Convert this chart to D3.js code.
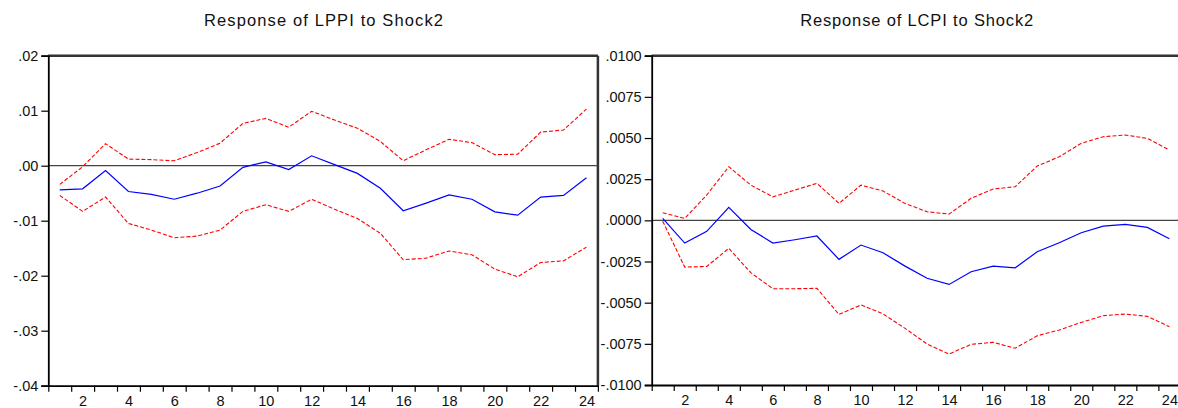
<!DOCTYPE html>
<html>
<head>
<meta charset="utf-8">
<script src="https://cdn.jsdelivr.net/npm/d3@7"></script>
<style>
  body { margin: 0; background: #fff; overflow: hidden; }
  svg { display: block; font-family: Arial, "Liberation Sans", sans-serif; }
</style>
</head>
<body>
<div id="chart-area"></div>
<script>
// Data -------------------------------------------------
const periods = [1, 2, 3, 4, 5, 6, 7, 8, 9, 10, 11, 12, 13, 14, 15, 16, 17, 18, 19, 20, 21, 22, 23, 24]
const evenLabels = [2, 4, 6, 8, 10, 12, 14, 16, 18, 20, 22, 24]

// Response of LPPI to Shock2
const lppiResp = [-0.0044, -0.0042, -0.0009, -0.0047, -0.0052, -0.0061, -0.0050, -0.0037, -0.0003, 0.0007,
  -0.0007, 0.0018, 0.0002, -0.0014, -0.0041, -0.0082, -0.0068, -0.0053, -0.0061, -0.0084,
  -0.0090, -0.0057, -0.0054, -0.0022]
const lppiUpper = [-0.0034, -0.0002, 0.0040, 0.0012, 0.0011, 0.0009, 0.0024, 0.0041, 0.0077, 0.0086,
  0.0070, 0.0099, 0.0083, 0.0068, 0.0044, 0.0009, 0.0029, 0.0048, 0.0042, 0.0020,
  0.0021, 0.0061, 0.0065, 0.0103]
const lppiLower = [-0.0054, -0.0083, -0.0057, -0.0105, -0.0117, -0.0131, -0.0128, -0.0117, -0.0083, -0.0071,
  -0.0083, -0.0061, -0.0079, -0.0096, -0.0123, -0.0171, -0.0168, -0.0155, -0.0162, -0.0188,
  -0.0202, -0.0176, -0.0173, -0.0148]
const lppiTicks = [-0.04, -0.03, -0.02, -0.01, 0.00, 0.01, 0.02]

// Response of LCPI to Shock2
const lcpiResp = [0.00012, -0.00138, -0.00067, 0.00079, -0.00055, -0.00138, -0.00118, -0.00095, -0.00237, -0.00150,
  -0.00197, -0.00278, -0.00352, -0.00389, -0.00312, -0.00278, -0.00288, -0.00191, -0.00136, -0.00075,
  -0.00035, -0.00024, -0.00043, -0.00112]
const lcpiUpper = [0.00046, 0.00012, 0.00154, 0.00326, 0.00214, 0.00143, 0.00184, 0.00225, 0.00103, 0.00214,
  0.00178, 0.00103, 0.00052, 0.00038, 0.00134, 0.00190, 0.00204, 0.00330, 0.00386, 0.00468,
  0.00508, 0.00518, 0.00498, 0.00427]
const lcpiLower = [-0.00005, -0.00284, -0.00280, -0.00170, -0.00318, -0.00415, -0.00415, -0.00413, -0.00571, -0.00514,
  -0.00568, -0.00656, -0.00751, -0.00812, -0.00753, -0.00741, -0.00777, -0.00701, -0.00666, -0.00620,
  -0.00579, -0.00569, -0.00583, -0.00646]
const lcpiTicks = [-0.0100, -0.0075, -0.0050, -0.0025, 0.0000, 0.0025, 0.0050, 0.0075, 0.0100]

// Canvas setup -----------------------------------------
const WIDTH = 1178
const HEIGHT = 408

const svg = d3.select("#chart-area").append("svg")
  .attr("width", WIDTH)
  .attr("height", HEIGHT)

const panels = [
  {title: "Response of LPPI to Shock2", titleX: 323.5, titleLen: 239,
   left: 48.3, right: 597.9, top: 55.7, bottom: 385.7,
   domain: [-0.04, 0.02], ticks: lppiTicks, fmt: ".2f",
   resp: lppiResp, upper: lppiUpper, lower: lppiLower},
  {title: "Response of LCPI to Shock2", titleX: 916.7, titleLen: 233,
   left: 651.7, right: 1180.4, top: 55.7, bottom: 385.0,
   domain: [-0.01, 0.01], ticks: lcpiTicks, fmt: ".4f",
   resp: lcpiResp, upper: lcpiUpper, lower: lcpiLower}
]

panels.forEach(drawPanel)

function tickText(fmt){
  // EViews style: ".02", "-.0025" (plain hyphen, no leading zero)
  return d => d3.format(fmt)(d).replace("\u2212", "-").replace("0.", ".")
}

function drawPanel(p){
  const g = svg.append("g")

  const xScale = d3.scaleLinear()
    .domain([0.5, 24.5])
    .range([p.left, p.right])

  const yScale = d3.scaleLinear()
    .domain(p.domain)
    .range([p.bottom, p.top])

  // title
  g.append("text")
    .attr("x", p.titleX)
    .attr("y", 26)
    .attr("text-anchor", "middle")
    .attr("font-size", "16.5px")
    .attr("fill", "#111")
    .attr("textLength", p.titleLen)
    .attr("lengthAdjust", "spacing")
    .text(p.title)

  // frame: top + right borders
  g.append("line")
    .attr("x1", p.left).attr("x2", p.right)
    .attr("y1", p.top).attr("y2", p.top)
    .attr("stroke", "#333").attr("stroke-width", 2.5)
  g.append("line")
    .attr("x1", p.right).attr("x2", p.right)
    .attr("y1", p.top).attr("y2", p.bottom)
    .attr("stroke", "#333").attr("stroke-width", 2.5)

  // zero line
  g.append("line")
    .attr("x1", p.left).attr("x2", p.right)
    .attr("y1", yScale(0)).attr("y2", yScale(0))
    .attr("stroke", "#444").attr("stroke-width", 1.3)

  // y axis
  const yAxis = d3.axisLeft(yScale)
    .tickValues(p.ticks)
    .tickSize(7)
    .tickPadding(3)
    .tickFormat(tickText(p.fmt))

  const ya = g.append("g")
    .attr("transform", `translate(${p.left}, 0)`)
    .call(yAxis)
  ya.select(".domain").attr("stroke", "#000").attr("stroke-width", 1.8)
  ya.selectAll(".tick line").attr("stroke", "#000").attr("stroke-width", 1.2)
  ya.selectAll("text")
    .attr("font-size", "14.5px")
    .attr("font-family", "Arial, 'Liberation Sans', sans-serif")
    .attr("fill", "#111")

  // x axis: ticks on period boundaries, labels centred on even periods
  const boundaries = periods.map(d => d - 0.5).concat([24.5])
  const xAxis = d3.axisBottom(xScale)
    .tickValues(boundaries)
    .tickSize(6)
    .tickSizeOuter(0)
    .tickFormat("")

  const xa = g.append("g")
    .attr("transform", `translate(0, ${p.bottom})`)
    .call(xAxis)
  xa.select(".domain").attr("stroke", "#000").attr("stroke-width", 1.8)
  xa.selectAll(".tick line").attr("stroke", "#000").attr("stroke-width", 1.2)

  const xLabels = d3.axisBottom(xScale)
    .tickValues(evenLabels)
    .tickSize(0)
    .tickPadding(10)
    .tickFormat(d => d)

  const xl = g.append("g")
    .attr("transform", `translate(0, ${p.bottom})`)
    .call(xLabels)
  xl.select(".domain").remove()
  xl.selectAll("text")
    .attr("font-size", "14.5px")
    .attr("font-family", "Arial, 'Liberation Sans', sans-serif")
    .attr("fill", "#111")

  // lines
  const line = d3.line()
    .x((d, i) => xScale(periods[i]))
    .y(d => yScale(d))

  g.append("path")
    .datum(p.upper)
    .attr("d", line)
    .attr("fill", "none")
    .attr("stroke", "#ff0000")
    .attr("stroke-width", 1.1)
    .attr("stroke-dasharray", "4,2")

  g.append("path")
    .datum(p.lower)
    .attr("d", line)
    .attr("fill", "none")
    .attr("stroke", "#ff0000")
    .attr("stroke-width", 1.1)
    .attr("stroke-dasharray", "4,2")

  g.append("path")
    .datum(p.resp)
    .attr("d", line)
    .attr("fill", "none")
    .attr("stroke", "#0000ff")
    .attr("stroke-width", 1.2)
}
</script>
</body>
</html>
